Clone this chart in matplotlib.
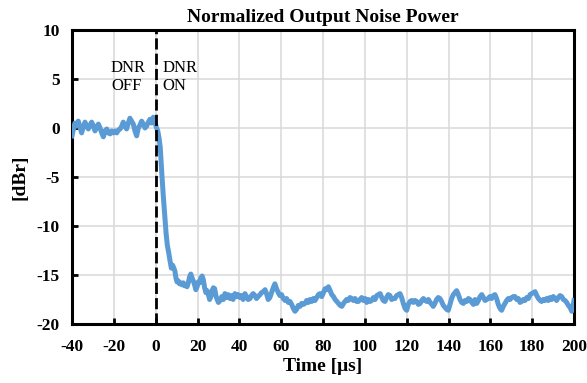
import matplotlib
matplotlib.use("Agg")
import matplotlib.pyplot as plt

time_us = [
    -40, -39.3, -38.6, -37.8, -37, -36.2, -35.4, -34.6, -33.8, -33, -32.2, -31.4, -30.6, -29.8, -29,
    -28.2, -27.4, -26.6, -25.8, -25, -24.2, -23.4, -22.6, -21.8, -21, -20.2, -19.4, -18.6, -17.8, -17,
    -16.2, -15.5, -14.7, -13.9, -13.1, -12.3, -11.5, -10.7, -9.9, -9.1, -8.3, -7.5, -6.7, -5.9, -5.1,
    -4.3, -3.5, -2.7, -1.9, -1.1, -0.4, 0.3, 1.0, 1.6, 2.2, 2.9, 3.6, 4.3, 5.0, 5.6, 6.3, 6.9, 7.5,
    8.1, 8.7, 9.2, 9.7, 10.2, 10.8, 11.4, 12.0, 12.6, 13.2, 13.8, 14.4, 15.0, 15.6, 16.2, 16.8, 17.4,
    18.0, 18.6, 19.2, 19.8, 20.4, 21.0, 21.6, 22.2, 22.8, 23.4, 24.0, 24.6, 25.2, 25.8, 26.4, 27.0,
    27.6, 28.2, 28.8, 29.4, 30.0, 30.8, 31.6, 32.4, 33.1, 33.8, 34.6, 35.5, 36.2, 37.0, 37.9, 38.6,
    39.4, 40.3, 41.0, 41.8, 42.7, 43.4, 44.2, 45.1, 45.8, 46.6, 47.5, 48.2, 49.0, 49.9, 50.6, 51.4,
    52.3, 53.0, 53.8, 54.6, 55.4, 56.2, 57.0, 57.8, 58.6, 59.4, 60.2, 61.0, 61.9, 62.6, 63.4, 64.2,
    65.0, 65.8, 66.6, 67.4, 68.2, 69.0, 69.8, 70.6, 71.4, 72.2, 73.0, 73.8, 74.6, 75.4, 76.2, 77.0,
    77.8, 78.6, 79.4, 80.2, 81.0, 81.8, 82.6, 83.4, 84.2, 85.0, 85.8, 86.6, 87.4, 88.2, 89.0, 89.8,
    90.5, 91.3, 92.1, 92.9, 93.7, 94.5, 95.3, 96.1, 96.9, 97.7, 98.5, 99.3, 100.1, 100.9, 101.7,
    102.5, 103.3, 104.1, 104.9, 105.7, 106.5, 107.3, 108.1, 108.8, 109.6, 110.4, 111.2, 112.0, 112.8,
    113.6, 114.4, 115.2, 116.0, 116.8, 117.6, 118.4, 119.2, 120.0, 120.8, 121.6, 122.4, 123.2, 124.0,
    124.8, 125.6, 126.4, 127.2, 128.0, 128.8, 129.6, 130.4, 131.2, 132.0, 132.7, 133.5, 134.3, 135.1,
    135.9, 136.7, 137.5, 138.3, 139.1, 139.9, 140.7, 141.5, 142.3, 143.1, 143.9, 144.7, 145.5, 146.3,
    147.1, 147.9, 148.7, 149.5, 150.3, 151.1, 151.9, 152.7, 153.5, 154.3, 155.1, 155.9, 156.7, 157.5,
    158.3, 159.0, 159.8, 160.6, 161.4, 162.2, 163.0, 163.8, 164.6, 165.4, 166.2, 167.0, 167.8, 168.6,
    169.4, 170.2, 171.0, 171.8, 172.6, 173.4, 174.2, 175.0, 175.8, 176.6, 177.4, 178.2, 179.0, 179.8,
    180.6, 181.4, 182.2, 183.0, 183.8, 184.5, 185.3, 186.1, 186.9, 187.7, 188.5, 189.3, 190.1, 190.9,
    191.7, 192.5, 193.3, 194.1, 194.9, 195.7, 196.5, 197.3, 198.1, 198.9, 199.5, 200.0,
]

noise_dbr = [
    -0.8, -0.1, 0.5, 0.2, 0.7, 0.1, -0.5, 0.1, 0.6, 0.2, -0.1, 0.3, 0.6, 0.2, -0.3,
    0.1, 0.4, 0.0, -0.5, -0.9, -0.3, -0.1, -0.5, -0.6, -0.3, -0.5, -0.3, -0.5, -0.2, -0.1,
    0.2, 0.6, 0.2, -0.1, 0.5, 1.0, 0.7, 0.4, -0.3, -0.8, 0.0, 0.3, 0.7, 0.4, 0.0,
    0.2, 0.6, 0.9, 0.5, 1.1, 0.6, 0.1, -0.3, -1.0, -2.0, -4.5, -6.8, -8.8, -10.8, -12.0, -12.8, -13.6, -14.3,
    -14.0, -14.3, -14.6, -15.3, -15.7, -15.6, -15.9, -15.8, -16.0, -15.8, -16.1, -16.0, -16.2, -15.8, -15.2, -14.9, -15.3,
    -15.6, -16.0, -16.5, -16.2, -15.7, -15.8, -15.3, -15.1, -15.5, -16.3, -16.8, -16.6, -17.0, -17.5, -17.2, -16.6,
    -16.3, -16.4, -17.1, -17.5, -17.8, -17.6, -17.2, -17.5, -16.9, -17.3, -17.0, -17.4, -17.1, -17.5, -16.9, -17.2,
    -17.0, -17.3, -17.1, -17.5, -16.9, -17.2, -17.5, -17.4, -17.1, -16.9, -17.1, -17.4, -17.2, -17.0, -16.8, -16.7,
    -16.5, -16.9, -17.5, -17.3, -16.8, -16.3, -15.9, -16.4, -16.8, -17.1, -17.0, -17.4, -17.6, -17.4, -17.8, -17.7,
    -18.0, -18.4, -18.7, -18.5, -18.1, -18.2, -17.9, -18.0, -17.9, -17.6, -17.8, -17.5, -17.7, -17.4, -17.6, -17.3,
    -17.0, -16.9, -17.2, -16.8, -16.4, -16.5, -16.2, -16.6, -17.0, -17.2, -17.5, -17.7, -17.9, -18.1, -18.2, -17.9,
    -17.7, -17.5, -17.6, -17.3, -17.4, -17.6, -17.4, -17.7, -17.7, -17.5, -17.3, -17.6, -17.4, -17.8, -17.5,
    -17.7, -17.6, -17.3, -17.5, -17.1, -17.0, -16.9, -17.3, -17.6, -17.7, -17.3, -17.0, -17.1, -17.5,
    -17.4, -17.4, -17.1, -17.0, -16.9, -17.3, -17.9, -18.4, -18.6, -18.0, -17.7, -17.6, -17.8, -17.6,
    -17.7, -18.0, -17.9, -17.6, -17.4, -17.6, -17.7, -17.5, -17.8, -18.0, -18.2, -17.9, -17.5, -17.3,
    -17.4, -17.7, -18.1, -18.3, -18.5, -18.6, -18.0, -17.4, -17.0, -16.8, -16.6, -17.0, -17.5, -17.8,
    -17.9, -17.6, -17.7, -17.4, -17.5, -17.8, -18.0, -17.5, -17.9, -17.6, -17.2, -17.0, -17.3, -17.6,
    -17.5, -17.4, -17.2, -17.4, -17.1, -17.0, -17.4, -18.0, -18.4, -18.6, -18.2, -17.9, -17.6, -17.4,
    -17.5, -17.3, -17.2, -17.2, -17.5, -17.4, -17.8, -17.7, -17.5, -17.6, -17.3, -17.4, -17.0, -16.9,
    -16.8, -16.7, -17.1, -17.4, -17.6, -17.7, -17.5, -17.6, -17.4, -17.6, -17.3, -17.5, -17.2, -17.4,
    -17.6, -17.3, -17.1, -17.2, -17.5, -17.6, -17.8, -18.1, -18.3, -18.7, -18.2, -17.6,
]

x_ticks = [-40, -20, 0, 20, 40, 60, 80, 100, 120, 140, 160, 180, 200]
y_ticks = [-20, -15, -10, -5, 0, 5, 10]
switch_time = 0
label_off = "DNR\nOFF"
label_on = "DNR\nON"

plt.rcParams['font.family'] = ['Liberation Serif', 'DejaVu Serif']

fig = plt.figure(figsize=(5.87, 3.83), dpi=100)
ax = fig.add_axes([72 / 587, 59 / 383, 502 / 587, 294 / 383])

ax.plot(time_us, noise_dbr, color='#5B9BD5', lw=3.6, solid_joinstyle='round', zorder=3)
ax.axvline(switch_time, color='black', lw=2, linestyle=(0, (4, 1.5)), zorder=4)

ax.text(-21.4, 6.9, label_off, fontsize=12, va='top', ha='left', linespacing=1.15)
ax.text(3.4, 6.9, label_on, fontsize=12, va='top', ha='left', linespacing=1.15)

ax.set_xlim(-40, 200)
ax.set_ylim(-20, 10)
ax.set_xticks(x_ticks)
ax.set_yticks(y_ticks)
ax.set_xticklabels([str(v) for v in x_ticks])
ax.set_yticklabels([str(v) for v in y_ticks])
ax.grid(True, color='#D9D9D9', lw=1.1, zorder=0)
ax.set_axisbelow(True)

for s in ax.spines.values():
    s.set_linewidth(2.2)
    s.set_color('black')

ax.tick_params(direction='in', length=4, width=2, labelsize=12.5)
ax.tick_params(axis='y', pad=9)
ax.tick_params(axis='x', pad=11)
for lab in ax.get_xticklabels() + ax.get_yticklabels():
    lab.set_fontweight('bold')

ax.set_title('Normalized Output Noise Power', fontsize=14, fontweight='bold', pad=6)
ax.set_xlabel('Time [μs]', fontsize=14, fontweight='bold', labelpad=2)
ax.set_ylabel('[dBr]', fontsize=14, fontweight='bold', labelpad=6)

fig.savefig('out.png', dpi=100)
